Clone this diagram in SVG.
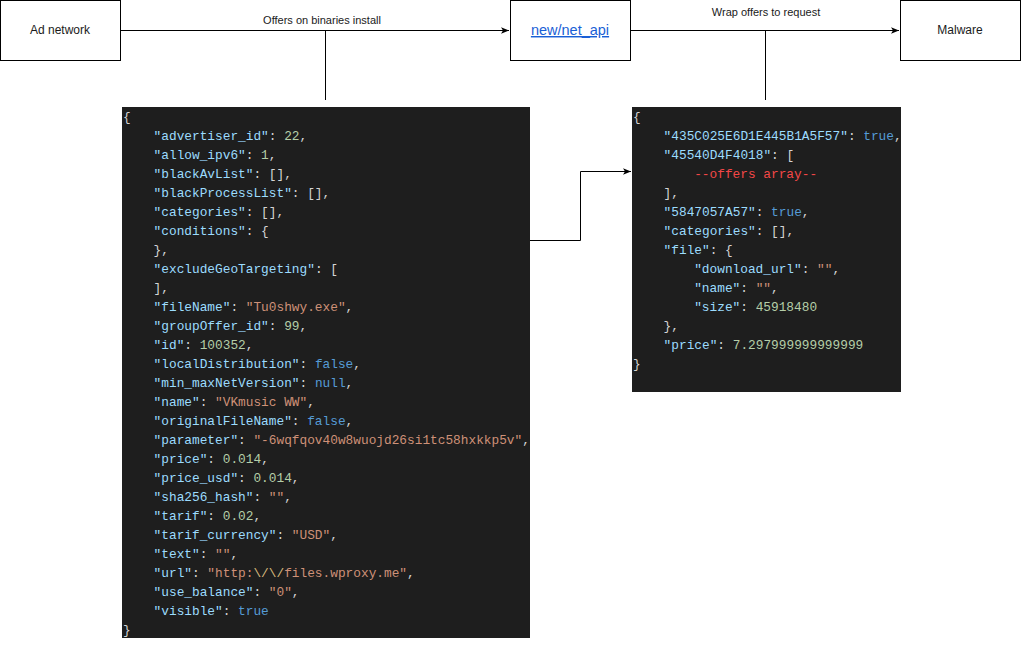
<svg xmlns="http://www.w3.org/2000/svg" width="1021" height="661" viewBox="0 0 1021 661" xml:space="preserve">
<style>
.box{fill:#ffffff;stroke:#000000;stroke-width:1}
.lbl{font-family:"Liberation Sans",Arial,sans-serif;font-size:12px;fill:#1a1a1a;text-anchor:middle}
.elbl{font-family:"Liberation Sans",Arial,sans-serif;font-size:11px;fill:#1a1a1a;text-anchor:middle}
.link{font-family:"Liberation Sans",Arial,sans-serif;font-size:14.5px;fill:#1a5fd6;text-anchor:middle;text-decoration:underline}
.edge{fill:none;stroke:#000000;stroke-width:1}
.code{fill:#1e1e1e}
.c{font-family:"Liberation Mono","DejaVu Sans Mono",monospace;font-size:12.8px;fill:#d4d4d4;white-space:pre}
.k{fill:#9cdcfe}
.s{fill:#ce9178}
.n{fill:#b5cea8}
.b{fill:#569cd6}
.e{fill:#d7ba7d}
.r{fill:#f44747}
</style>
<defs>
<marker id="arr" viewBox="0 0 10 10" refX="10" refY="5" markerWidth="8" markerHeight="8" markerUnits="userSpaceOnUse" orient="auto">
<path d="M0,1 L10,5 L0,9 L2.5,5 Z" fill="#000000"/>
</marker>
</defs>
<rect width="1021" height="661" fill="#ffffff"/>

<g id="connectors">
<path class="edge" d="M120.5,30.5 H509" marker-end="url(#arr)"/>
<path class="edge" d="M325.5,30.5 V100"/>
<path class="edge" d="M630.5,30.5 H899" marker-end="url(#arr)"/>
<path class="edge" d="M765.5,30.5 V100"/>
<path class="edge" d="M530,240.5 H580.5 V171.5 H631" marker-end="url(#arr)"/>
<text class="elbl" x="322" y="24">Offers on binaries install</text>
<text class="elbl" x="766" y="16">Wrap offers to request</text>
</g>

<g id="ad-network">
<rect class="box" x="0.5" y="0.5" width="120" height="60"/>
<text class="lbl" x="60" y="34">Ad network</text>
</g>

<g id="net-api">
<rect class="box" x="510.5" y="0.5" width="120" height="60"/>
<text class="link" x="570" y="35">new/net_api</text>
</g>

<g id="malware">
<rect class="box" x="900.5" y="0.5" width="120" height="60"/>
<text class="lbl" x="960" y="34">Malware</text>
</g>

<g id="offer-json">
<rect class="code" x="122" y="107" width="408" height="531"/>
<text class="c" x="123" y="120.5">{</text>
<text class="c" x="153.6" y="139.5"><tspan class="k">"advertiser_id"</tspan>: <tspan class="n">22</tspan>,</text>
<text class="c" x="153.6" y="158.5"><tspan class="k">"allow_ipv6"</tspan>: <tspan class="n">1</tspan>,</text>
<text class="c" x="153.6" y="177.5"><tspan class="k">"blackAvList"</tspan>: [],</text>
<text class="c" x="153.6" y="196.5"><tspan class="k">"blackProcessList"</tspan>: [],</text>
<text class="c" x="153.6" y="215.5"><tspan class="k">"categories"</tspan>: [],</text>
<text class="c" x="153.6" y="234.5"><tspan class="k">"conditions"</tspan>: {</text>
<text class="c" x="153.6" y="253.5">},</text>
<text class="c" x="153.6" y="272.5"><tspan class="k">"excludeGeoTargeting"</tspan>: [</text>
<text class="c" x="153.6" y="291.5">],</text>
<text class="c" x="153.6" y="310.5"><tspan class="k">"fileName"</tspan>: <tspan class="s">"Tu0shwy.exe"</tspan>,</text>
<text class="c" x="153.6" y="329.5"><tspan class="k">"groupOffer_id"</tspan>: <tspan class="n">99</tspan>,</text>
<text class="c" x="153.6" y="348.5"><tspan class="k">"id"</tspan>: <tspan class="n">100352</tspan>,</text>
<text class="c" x="153.6" y="367.5"><tspan class="k">"localDistribution"</tspan>: <tspan class="b">false</tspan>,</text>
<text class="c" x="153.6" y="386.5"><tspan class="k">"min_maxNetVersion"</tspan>: <tspan class="b">null</tspan>,</text>
<text class="c" x="153.6" y="405.5"><tspan class="k">"name"</tspan>: <tspan class="s">"VKmusic WW"</tspan>,</text>
<text class="c" x="153.6" y="424.5"><tspan class="k">"originalFileName"</tspan>: <tspan class="b">false</tspan>,</text>
<text class="c" x="153.6" y="443.5"><tspan class="k">"parameter"</tspan>: <tspan class="s">"-6wqfqov40w8wuojd26si1tc58hxkkp5v"</tspan>,</text>
<text class="c" x="153.6" y="462.5"><tspan class="k">"price"</tspan>: <tspan class="n">0.014</tspan>,</text>
<text class="c" x="153.6" y="481.5"><tspan class="k">"price_usd"</tspan>: <tspan class="n">0.014</tspan>,</text>
<text class="c" x="153.6" y="500.5"><tspan class="k">"sha256_hash"</tspan>: <tspan class="s">""</tspan>,</text>
<text class="c" x="153.6" y="519.5"><tspan class="k">"tarif"</tspan>: <tspan class="n">0.02</tspan>,</text>
<text class="c" x="153.6" y="538.5"><tspan class="k">"tarif_currency"</tspan>: <tspan class="s">"USD"</tspan>,</text>
<text class="c" x="153.6" y="557.5"><tspan class="k">"text"</tspan>: <tspan class="s">""</tspan>,</text>
<text class="c" x="153.6" y="576.5"><tspan class="k">"url"</tspan>: <tspan class="s">"http:</tspan><tspan class="e">\/\/</tspan><tspan class="s">files.wproxy.me"</tspan>,</text>
<text class="c" x="153.6" y="595.5"><tspan class="k">"use_balance"</tspan>: <tspan class="s">"0"</tspan>,</text>
<text class="c" x="153.6" y="614.5"><tspan class="k">"visible"</tspan>: <tspan class="b">true</tspan></text>
<text class="c" x="123" y="633.5">}</text>
</g>

<g id="request-json">
<rect class="code" x="632" y="107" width="269" height="285"/>
<text class="c" x="633" y="120.5">{</text>
<text class="c" x="663.6" y="139.5"><tspan class="k">"435C025E6D1E445B1A5F57"</tspan>: <tspan class="b">true</tspan>,</text>
<text class="c" x="663.6" y="158.5"><tspan class="k">"45540D4F4018"</tspan>: [</text>
<text class="c r" x="694.2" y="177.5">--offers array--</text>
<text class="c" x="663.6" y="196.5">],</text>
<text class="c" x="663.6" y="215.5"><tspan class="k">"5847057A57"</tspan>: <tspan class="b">true</tspan>,</text>
<text class="c" x="663.6" y="234.5"><tspan class="k">"categories"</tspan>: [],</text>
<text class="c" x="663.6" y="253.5"><tspan class="k">"file"</tspan>: {</text>
<text class="c" x="694.2" y="272.5"><tspan class="k">"download_url"</tspan>: <tspan class="s">""</tspan>,</text>
<text class="c" x="694.2" y="291.5"><tspan class="k">"name"</tspan>: <tspan class="s">""</tspan>,</text>
<text class="c" x="694.2" y="310.5"><tspan class="k">"size"</tspan>: <tspan class="n">45918480</tspan></text>
<text class="c" x="663.6" y="329.5">},</text>
<text class="c" x="663.6" y="348.5"><tspan class="k">"price"</tspan>: <tspan class="n">7.297999999999999</tspan></text>
<text class="c" x="633" y="367.5">}</text>
</g>
</svg>
